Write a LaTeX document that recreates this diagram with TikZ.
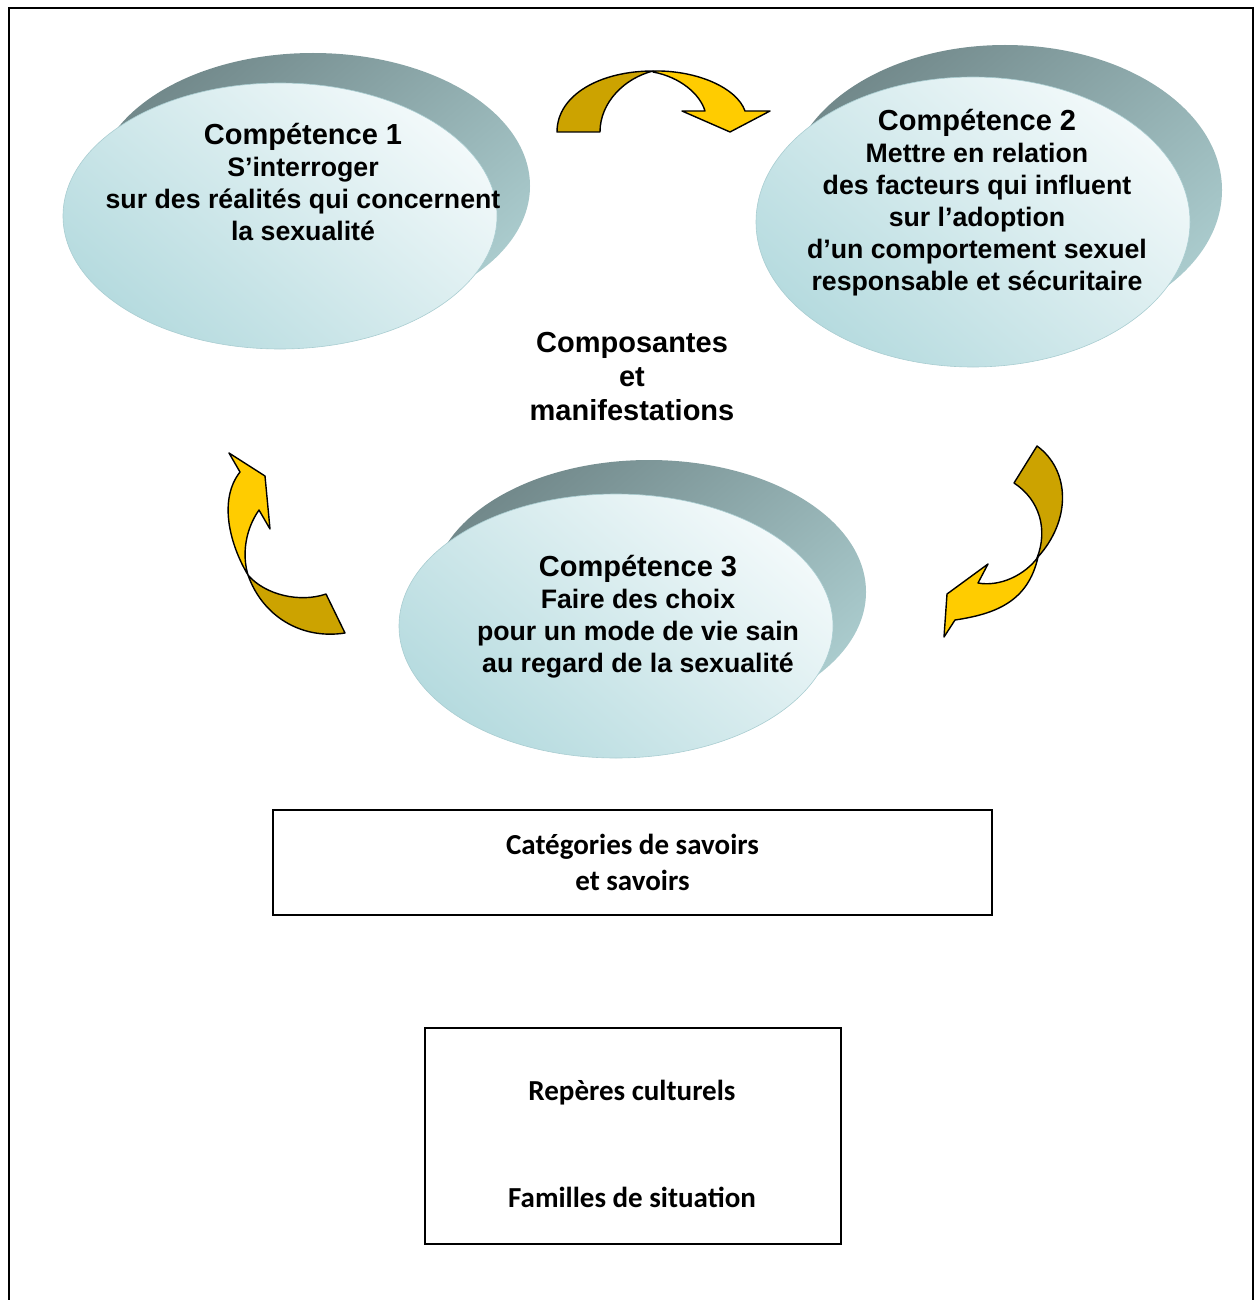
\documentclass[tikz,border=0pt]{standalone}
\usepackage{fontspec}
\setmainfont{Liberation Sans}
\newfontfamily\calibrifont{Carlito}
\usetikzlibrary{shapes.geometric}
\definecolor{darkgold}{HTML}{CCA300}
\definecolor{brightgold}{HTML}{FFCC00}
\definecolor{backdark}{HTML}{72898B}
\definecolor{backlight}{HTML}{AACBCD}
\definecolor{frontlight}{HTML}{F2F9FA}
\definecolor{frontdark}{HTML}{B6DBDF}
\definecolor{frontedge}{HTML}{A9CDD1}
\begin{document}
\begin{tikzpicture}[x=1pt,y=-1pt,
  backell/.style={ellipse, inner sep=0pt, minimum width=434pt, minimum height=#1,
    shading=axis, top color=backdark, bottom color=backlight, shading angle=40},
  frontell/.style={ellipse, inner sep=0pt, minimum width=434pt, minimum height=#1,
    shading=axis, top color=frontlight, bottom color=frontdark, shading angle=-40,
    draw=frontedge, line width=0.6pt},
  bodytext/.style={align=center, font=\bfseries\fontsize{26.7}{32}\selectfont, inner sep=0pt},
  boxtext/.style={align=center, font=\calibrifont\bfseries\fontsize{29}{36}\selectfont},
  framebox/.style={draw=black, line width=1.8pt, inner sep=0pt},
  curvarrow/.style={draw=black, line width=1.4pt, line join=round}
]
\useasboundingbox (0,0) rectangle (1257,1300);
% outer frame (open at the bottom)
\draw[line width=1.6pt] (9,1300) -- (9,8) -- (1253,8) -- (1253,1300);

% ellipses
\node[backell=266pt] (b1) at (313,186) {};
\node[frontell=266pt] (e1) at (280,216) {};
\node[backell=290pt] (b2) at (1005,190) {};
\node[frontell=290pt] (e2) at (973,222) {};
\node[backell=264pt] (b3) at (649,592) {};
\node[frontell=264pt] (e3) at (616,626) {};

% texts in ellipses
\node[bodytext] (t1) at (303,182) {{\fontsize{29}{32}\selectfont Compétence 1}\\S’interroger\\sur des réalités qui concernent\\la sexualité};
\node[bodytext] (t2) at (977,203) {{\fontsize{29}{32}\selectfont Compétence 2}\\Mettre en relation\\des facteurs qui influent\\sur l’adoption\\d’un comportement sexuel\\responsable et sécuritaire};
\node[bodytext] (t3) at (638,617) {{\fontsize{29}{32}\selectfont Compétence 3}\\Faire des choix\\pour un mode de vie sain\\au regard de la sexualité};

% centre label
\node[align=center, font=\bfseries\fontsize{29}{34}\selectfont, inner sep=0pt] (comp) at (632,377) {Composantes\\et\\manifestations};

% boxes
\node[framebox, minimum width=719pt, minimum height=105pt] (box1) at (632.5,862.5) {};
\node[boxtext] (box1t) at (box1.center) {Catégories de savoirs\\et savoirs};
\node[framebox, minimum width=416pt, minimum height=216pt] (box2) at (633,1136) {};
\node[boxtext, inner sep=0pt] (rep) at (632,1093) {Repères culturels};
\node[boxtext, inner sep=0pt] (fam) at (632,1197) {Familles de situation};

% top curved arrow (1 -> 2)
\filldraw[curvarrow, fill=darkgold] (557,132) .. controls (557,95) and (600,71) .. (653,71)
   .. controls (625,78) and (600,102) .. (600,132) -- cycle;
\filldraw[curvarrow, fill=brightgold] (653,71) .. controls (697,70) and (737,88) .. (745,111)
   -- (770,111) -- (730,132) -- (682,111) -- (705,111)
   .. controls (700,94) and (680,77) .. (653,72) -- cycle;

% right curved arrow (2 -> 3)
\filldraw[curvarrow, fill=darkgold] (1037,446) .. controls (1070,470) and (1072,520) .. (1037,558)
   .. controls (1048,530) and (1040,500) .. (1014,483) -- cycle;
\filldraw[curvarrow, fill=brightgold] (1038,557) .. controls (1025,575) and (1000,587) .. (978,583)
   -- (988,564) -- (947,594) -- (944,637) -- (955,620)
   .. controls (995,614) and (1028,602) .. (1038,557) -- cycle;

% left curved arrow (3 -> 1)
\filldraw[curvarrow, fill=darkgold] (248,575) .. controls (265,595) and (300,603) .. (326,594)
   -- (345,633) .. controls (300,640) and (262,615) .. (248,575) -- cycle;
\filldraw[curvarrow, fill=brightgold] (229,453) -- (265,476) -- (270,529) -- (259,510)
   .. controls (245,530) and (242,555) .. (248,575)
   .. controls (230,545) and (218,500) .. (240,472) -- cycle;
\end{tikzpicture}
\end{document}
